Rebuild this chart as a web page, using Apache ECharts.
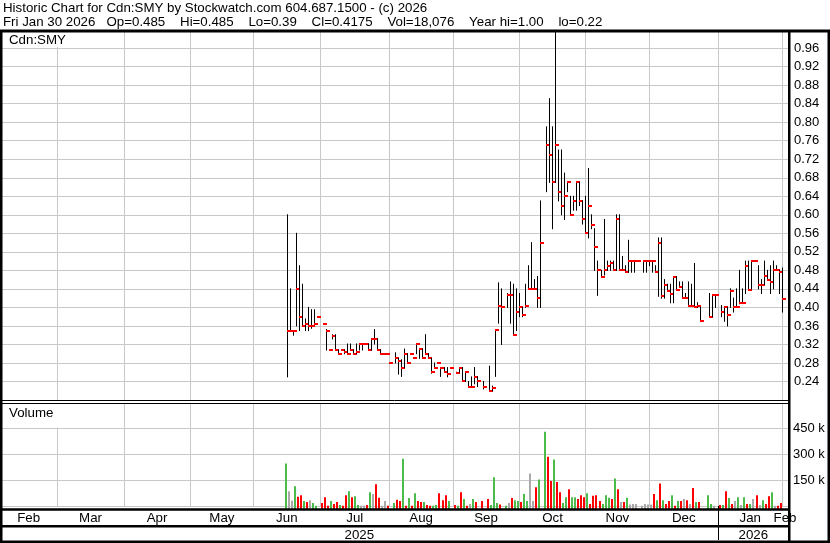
<!DOCTYPE html>
<html><head><meta charset="utf-8">
<script src="https://cdn.jsdelivr.net/npm/echarts@6/dist/echarts.min.js"></script>
<style>html,body{margin:0;padding:0;background:#fff}#c{width:830px;height:543px}</style>
</head><body><div id="c"></div>
<script>
// ---- calendar: one slot per weekday (holidays stay as empty slots) ----
const firstDay = '2025-02-03';
const lastDay = '2026-02-02';
const holidays = ['2025-02-17','2025-04-18','2025-05-19','2025-07-01','2025-08-04','2025-09-01',
  '2025-10-13','2025-12-25','2025-12-26','2026-01-01'];
const dataStart = '2025-06-16';
const monthNames = ['Jan','Feb','Mar','Apr','May','Jun','Jul','Aug','Sep','Oct','Nov','Dec'];

// ---- series values: one entry per trading day from dataStart (null = no trade) ----
const highs = [
  /*Jun*/ 0.60,0.44,0.35,0.56,0.49,0.45,0.375,0.40,0.395,0.395,0.38,
  /*Jul*/ 0.365,0.352,0.308,0.341,0.341,0.308,0.308,0.308,0.321,0.321,0.308,0.321,0.321,0.321,0.321,0.321,0.332,0.352,0.332,0.308,0.30,0.30,
  /*Aug*/ 0.28,0.302,0.29,0.287,0.31,0.30,0.30,0.29,0.32,0.31,0.31,0.341,0.30,0.29,0.28,0.28,0.27,0.27,0.27,0.27,
  /*Sep*/ 0.26,0.27,0.27,0.261,0.24,0.25,0.27,0.25,null,0.24,null,0.273,0.23,0.352,0.453,0.44,null,0.43,0.455,0.45,0.44,
  /*Oct*/ 0.43,0.40,0.45,0.49,0.54,0.46,0.467,0.63,0.79,0.851,0.79,1.00,0.74,0.74,0.69,0.67,0.64,0.64,0.67,0.67,0.63,0.64,
  /*Nov*/ 0.70,0.60,0.57,0.50,0.48,0.59,0.50,0.50,0.50,0.60,0.60,0.51,0.49,0.545,0.50,0.50,0.50,null,0.50,0.50,
  /*Dec*/ 0.50,0.50,0.49,0.55,0.55,0.46,0.45,0.45,0.466,0.466,0.455,0.455,0.43,0.455,0.45,0.495,0.41,0.40,0.43,0.426,0.426,
  /*Jan*/ 0.404,0.40,0.40,0.44,0.42,0.44,0.48,0.44,0.50,0.50,0.50,0.50,0.49,0.46,0.50,0.48,0.49,0.50,0.49,0.48,0.485
];
const lows = [
  /*Jun*/ 0.25,0.35,0.34,0.36,0.35,0.36,0.35,0.35,0.355,0.365,0.38,
  /*Jul*/ 0.365,0.308,0.308,0.332,0.308,0.30,0.308,0.30,0.30,0.308,0.30,0.30,0.308,0.308,0.321,0.308,0.308,0.321,0.308,0.30,0.30,0.30,
  /*Aug*/ 0.28,0.28,0.256,0.251,0.27,0.28,0.30,0.29,0.30,0.29,0.29,0.30,0.29,0.258,0.27,0.28,0.251,0.26,0.25,0.27,
  /*Sep*/ 0.258,0.26,0.24,0.24,0.229,0.229,0.235,0.229,null,0.224,null,0.22,0.22,0.251,0.366,0.32,null,0.40,0.366,0.34,0.35,
  /*Oct*/ 0.38,0.38,0.40,0.44,0.44,0.44,0.40,0.40,0.65,0.67,0.57,0.67,0.63,0.60,0.59,0.65,0.60,0.61,0.61,0.62,0.58,0.56,
  /*Nov*/ 0.55,0.57,0.48,0.426,0.466,0.47,0.48,0.48,0.48,0.48,0.48,0.48,0.476,0.476,0.476,0.476,0.50,null,0.476,0.476,
  /*Dec*/ 0.49,0.476,0.476,0.424,0.42,0.42,0.435,0.41,0.41,0.438,0.445,0.42,0.42,0.404,0.404,0.40,0.40,0.37,0.38,0.38,0.40,
  /*Jan*/ 0.38,0.37,0.36,0.40,0.39,0.40,0.408,0.41,0.43,0.438,0.44,0.50,0.44,0.43,0.449,0.46,0.43,0.44,0.48,0.43,0.39
];
const closes = [
  /*Jun*/ 0.35,0.35,0.35,0.44,0.38,0.36,0.365,0.36,0.36,0.365,0.38,
  /*Jul*/ 0.365,0.35,0.308,0.339,0.308,0.30,0.308,0.304,0.30,0.308,0.30,0.304,0.321,0.321,0.321,0.308,0.332,0.332,0.308,0.30,0.30,0.30,
  /*Aug*/ 0.28,0.29,0.285,0.27,0.30,0.28,0.30,0.29,0.32,0.31,0.29,0.30,0.29,0.26,0.27,0.28,0.27,0.261,0.256,0.27,
  /*Sep*/ 0.258,0.27,0.24,0.261,0.229,0.229,0.25,0.24,null,0.229,null,0.22,0.226,0.352,0.404,0.40,null,0.426,0.426,0.34,0.389,
  /*Oct*/ 0.40,0.384,0.404,0.44,0.44,0.44,0.42,0.54,0.75,0.73,0.67,0.75,0.65,0.62,0.64,0.67,0.60,0.63,0.67,0.63,0.59,0.56,
  /*Nov*/ 0.62,0.579,0.53,0.48,0.466,0.48,0.49,0.496,0.48,0.59,0.48,0.48,0.476,0.50,0.50,0.50,0.50,null,0.50,0.50,
  /*Dec*/ 0.50,0.50,0.476,0.54,0.425,0.449,0.435,0.43,0.466,0.438,0.445,0.42,0.42,0.404,0.404,0.40,0.404,0.37,0.38,0.426,0.426,
  /*Jan*/ 0.39,0.40,0.383,0.435,0.40,0.40,0.41,0.41,0.49,0.438,0.50,0.50,0.449,0.449,0.468,0.46,0.454,0.48,0.48,0.476,0.4175
];
const volumesK = [
  /*Jun*/ 246,86,30,114,53,63,29,23,34,17,2,
  /*Jul*/ 17,51,2,29,11,23,6,1,63,86,51,57,6,2,2,6,80,69,126,48,2,29,
  /*Aug*/ 2,17,36,29,274,2,46,2,74,29,23,23,6,2,1,6,74,34,63,29,
  /*Sep*/ 6,2,80,40,2,11,40,23,null,29,null,40,6,166,17,8,null,2,17,46,34,
  /*Oct*/ 29,23,69,29,189,29,109,154,430,286,145,269,139,80,17,51,97,51,51,40,63,51,
  /*Nov*/ 74,11,59,63,29,11,63,48,40,160,97,23,23,48,8,11,11,null,2,11,
  /*Dec*/ 8,8,69,34,131,34,11,29,63,2,29,29,40,34,11,105,23,23,63,11,2,
  /*Jan*/ 6,6,86,46,11,29,51,6,51,11,11,40,63,6,34,11,57,80,1,1,18
];
const priceTicks = [0.24,0.28,0.32,0.36,0.40,0.44,0.48,0.52,0.56,0.60,0.64,0.68,0.72,0.76,0.80,0.84,0.88,0.92,0.96];
const volumeTicks = [150000,300000,450000];

// ---- build categories ----
function weekdays(from, to) {
  const out = [];
  const d = new Date(from + 'T00:00:00Z');
  const end = new Date(to + 'T00:00:00Z');
  while (d <= end) {
    const wd = d.getUTCDay();
    if (wd !== 0 && wd !== 6) out.push(d.toISOString().slice(0, 10));
    d.setUTCDate(d.getUTCDate() + 1);
  }
  return out;
}
const cats = weekdays(firstDay, lastDay);
const N = cats.length;
function dt(s) { return new Date(s + 'T00:00:00Z'); }
function addDays(s, n) { const d = dt(s); d.setUTCDate(d.getUTCDate() + n); return d; }
// month boundary = slot holding the 1st of the month (a weekend 1st falls in the Friday slot)
const boundaries = [];
cats.forEach((s, i) => {
  const d = dt(s);
  if (i === 0) return;
  if (d.getUTCDate() === 1) boundaries.push(i);
  else if (d.getUTCDay() === 5) {
    const m = d.getUTCMonth();
    if (addDays(s, 1).getUTCMonth() !== m || addDays(s, 2).getUTCMonth() !== m) boundaries.push(i);
  }
});
const isBoundary = {}; boundaries.forEach(b => isBoundary[b] = true);
// month labels centred between boundaries
const edges = [0].concat(boundaries, [N]);
const monthLabel = {};
for (let k = 0; k + 1 < edges.length; k++) {
  const a = edges[k], b = edges[k + 1];
  const slot = Math.floor((a + b - 1) / 2);
  monthLabel[slot] = { text: monthNames[dt(cats[b - 1]).getUTCMonth()], half: (a + b) % 2 === 0 };
}
// year labels centred over each year's span
const yearEdges = [0];
boundaries.forEach(b => { if (dt(cats[b]).getUTCMonth() === 0 && dt(cats[b]).getUTCDate() === 1) yearEdges.push(b); });
yearEdges.push(N);
const yearLabel = {};
for (let k = 0; k + 1 < yearEdges.length; k++) {
  const a = yearEdges[k], b = yearEdges[k + 1];
  yearLabel[Math.floor((a + b - 1) / 2)] = { text: cats[b - 1].slice(0, 4), half: (a + b) % 2 === 0 };
}
const yearTick = {}; yearEdges.slice(0, -1).forEach(b => yearTick[b] = true);

// ---- place series values on their trading-day slots ----
const tradingDates = cats.filter(s => holidays.indexOf(s) < 0);
const startIdx = tradingDates.indexOf(dataStart);
const priceData = [], volData = [];
let prevClose = null;
for (let j = 0; j < closes.length; j++) {
  if (closes[j] == null) continue;
  const slot = cats.indexOf(tradingDates[startIdx + j]);
  priceData.push([slot, highs[j], lows[j], closes[j]]);
  const dir = prevClose == null ? 1 : (closes[j] > prevClose ? 1 : (closes[j] < prevClose ? -1 : 0));
  volData.push([slot, volumesK[j] * 1000, dir]);
  prevClose = closes[j];
}

const FONT = 'Liberation Sans, Arial, sans-serif';
const GRID_C = '#c8c8c8';
const GREEN = '#4cbb4c', RED = '#ff0000', GRAY = '#aaaaaa';
const txt = { fontFamily: FONT, fontSize: 13, color: '#000' };
const BAND = 788 / N;
const richLbl = {
  n: { fontFamily: FONT, fontSize: 13.3, color: '#000' },
  h: { fontFamily: FONT, fontSize: 13.3, color: '#000', padding: [0, 0, 0, BAND] }
};

function frameLine(x1, y1, x2, y2, w) {
  return { type: 'line', z: 100, silent: true, shape: { x1, y1, x2, y2 }, style: { stroke: '#000', lineWidth: w } };
}

const chart = echarts.init(document.getElementById('c'), null, { renderer: 'canvas' });
chart.setOption({
  animation: false,
  backgroundColor: '#fff',
  title: [
    { text: 'Historic Chart for Cdn:SMY by Stockwatch.com 604.687.1500 - (c) 2026\nFri Jan 30 2026   Op=0.485    Hi=0.485    Lo=0.39    Cl=0.4175    Vol=18,076    Year hi=1.00    lo=0.22',
      left: 3, top: 2, padding: 0,
      textStyle: { fontFamily: FONT, fontSize: 13.3, fontWeight: 'normal', color: '#000', lineHeight: 13.5 } },
    { text: 'Cdn:SMY', left: 2.5, top: 32, padding: [1, 6, 0, 6.5], backgroundColor: '#fff', z: 50,
      textStyle: { fontFamily: FONT, fontSize: 13.3, fontWeight: 'normal', color: '#000', lineHeight: 14 } },
    { text: 'Volume', left: 2.5, top: 404, padding: [2.5, 6, 7, 6.5], backgroundColor: '#fff', z: 50,
      textStyle: { fontFamily: FONT, fontSize: 13.3, fontWeight: 'normal', color: '#000', lineHeight: 14 } }
  ],
  grid: [
    { left: 0, right: 42, top: 31, height: 369 },
    { left: 0, right: 42, top: 403.5, height: 102.5 }
  ],
  xAxis: [
    { type: 'category', gridIndex: 0, data: cats,
      axisLine: { show: false }, axisTick: { show: false }, axisLabel: { show: false },
      splitLine: { show: true, interval: (i) => !!isBoundary[i], lineStyle: { color: GRID_C, width: 1 } } },
    { type: 'category', gridIndex: 1, data: cats, position: 'bottom', offset: 3.5,
      axisLine: { show: false },
      axisTick: { show: true, interval: (i) => !!yearTick[i], length: 34, lineStyle: { color: '#000', width: 1 } },
      axisLabel: { show: true, interval: (i) => !!monthLabel[i], margin: 2, rich: richLbl,
        formatter: (v, i) => { const m = monthLabel[cats.indexOf(v)]; return m ? (m.half ? '{h|' : '{n|') + m.text + '}' : ''; } },
      splitLine: { show: true, interval: (i) => !!isBoundary[i], lineStyle: { color: GRID_C, width: 1 } } },
    { type: 'category', gridIndex: 1, data: cats, position: 'bottom', offset: 20,
      axisLine: { show: false }, axisTick: { show: false },
      axisLabel: { show: true, interval: (i) => !!yearLabel[i], margin: 2.5, rich: richLbl,
        formatter: (v) => { const y = yearLabel[cats.indexOf(v)]; return y ? (y.half ? '{h|' : '{n|') + y.text + '}' : ''; } },
      splitLine: { show: false } }
  ],
  yAxis: [
    { type: 'value', gridIndex: 0, position: 'right', min: 0.2, max: 0.997, interval: 0.04,
      axisLine: { show: false }, axisTick: { show: false },
      axisLabel: { margin: 6, ...txt, formatter: (v) => {
        const r = Math.round(v * 100) / 100;
        return priceTicks.some(t => Math.abs(t - r) < 1e-6) ? r.toFixed(2) : '';
      } },
      splitLine: { show: true, lineStyle: { color: GRID_C, width: 1 } } },
    { type: 'value', gridIndex: 1, position: 'right', min: 0, max: 594000, interval: 150000,
      axisLine: { show: false }, axisTick: { show: false },
      axisLabel: { margin: 5, ...txt, formatter: (v) => volumeTicks.indexOf(v) >= 0 ? (v / 1000) + ' k' : '' },
      splitLine: { show: true, lineStyle: { color: GRID_C, width: 1 } } }
  ],
  series: [
    { type: 'custom', xAxisIndex: 0, yAxisIndex: 0, data: priceData, clip: true, z: 5,
      encode: { x: 0, y: [1, 2, 3] },
      renderItem: function (params, api) {
        const i = api.value(0);
        const band = api.size([1, 0])[0];
        const hi = api.coord([i, api.value(1)]);
        const lo = api.coord([i, api.value(2)]);
        const cl = api.coord([i, api.value(3)]);
        const x = Math.round(hi[0] - band / 2 - 0.3) + 0.5;
        return { type: 'group', children: [
          { type: 'line', shape: { x1: x, y1: hi[1] - 0.5, x2: x, y2: lo[1] + 0.5 }, style: { stroke: '#000', lineWidth: 1 } },
          { type: 'rect', shape: { x: x - 0.5, y: Math.round(cl[1]) - 1, width: 4, height: 2 }, style: { fill: RED } }
        ] };
      } },
    { type: 'custom', xAxisIndex: 1, yAxisIndex: 1, data: volData, clip: false, z: 5,
      encode: { x: 0, y: 1 },
      renderItem: function (params, api) {
        const i = api.value(0);
        const band = api.size([1, 0])[0];
        const top = api.coord([i, api.value(1)]);
        const base = api.coord([i, 0]);
        const d = api.value(2);
        const x = Math.round(top[0] - band / 2 - 0.3);
        const y0 = base[1] + 3;
        const yt = Math.min(top[1], y0 - 1);
        return { type: 'rect', shape: { x: x - 2, y: yt, width: 2, height: y0 - yt },
          style: { fill: d > 0 ? GREEN : (d < 0 ? RED : GRAY) } };
      } }
  ],
  graphic: [
    frameLine(0, 31, 830, 31, 3),
    frameLine(1.25, 30, 1.25, 543, 2.5),
    frameLine(828.75, 30, 828.75, 543, 2.5),
    frameLine(789.25, 30, 789.25, 543, 2.5),
    frameLine(0, 541.75, 830, 541.75, 2.5),
    frameLine(0, 400.5, 789, 400.5, 1),
    frameLine(0, 403.5, 789, 403.5, 1),
    frameLine(0, 509.5, 789, 509.5, 2.5),
    frameLine(0, 526.25, 789, 526.25, 2.5)
  ]
});
</script>
</body></html>
